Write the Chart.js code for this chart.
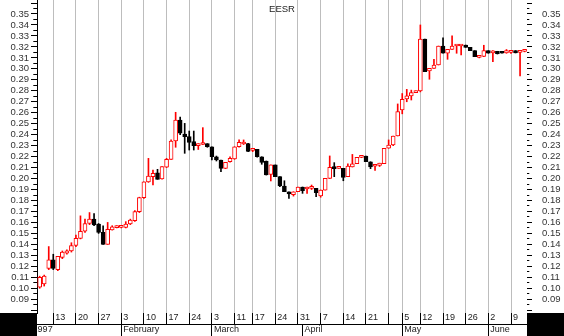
<!DOCTYPE html>
<html>
<head>
<meta charset="utf-8">
<script src="https://cdn.jsdelivr.net/npm/chart.js@4.4.0/dist/chart.umd.min.js"></script>
<style>
  html, body { margin: 0; padding: 0; background: #fff; }
  canvas { display: block; }
</style>
</head>
<body>
<canvas id="myChart" width="564" height="336"></canvas>
<script>
// trading day index (0 = Mon 6 Jan 1997)
const day = [
  2, 3, 4, 5, 6, 7, 8, 9, 10, 11,
  12, 13, 14, 15, 16, 17, 18, 19, 20, 21,
  22, 23, 24, 25, 26, 27, 28, 29, 30, 31,
  32, 33, 34, 35, 36, 37, 38, 39, 40, 41,
  42, 43, 44, 45, 46, 47, 48, 49, 50, 51,
  52, 53, 54, 55, 56, 57, 58, 59, 60, 61,
  62, 63, 64, 65, 66, 67, 68, 69, 70, 71,
  72, 73, 74, 75, 76, 77, 78, 79, 80, 81,
  82, 83, 84, 85, 86, 87, 88, 89, 90, 91,
  92, 93, 94, 95, 96, 97, 98, 99, 100, 101,
  102, 103, 104, 105, 106, 107, 108, 109
];
const open = [
  .101, .104, .118, .126, .117, .128, .132, .134, .139, .1455,
  .152, .159, .163, .1586, .151, .140, .1531, .1552, .1555, .1555,
  .1586, .1616, .1698, .1826, .1969, .2017, .2053, .1996, .2103, .2175,
  .2342, .2534, .2406, .2382, .2336, .2299, .231, .2318, .229, .2199,
  .2169, .2093, .2154, .2178, .229, .2315, .2318, .2257, .2266, .2199,
  .216, .2038, .2124, .2017, .1932, .188, .1853, .188, .1923, .1905,
  .191, .191, .1841, .1895, .2002, .2105, .2093, .2093, .2017, .2105,
  .2135, .2193, .2205, .2153, .2112, .212, .2135, .2276, .2306, .2388,
  .2625, .2725, .2753, .2783, .2799, .3272, .298, .3005, .3035, .3208,
  .3142, .3178, .3208, .3208, .3217, .3196, .3166, .3105, .3114, .3166,
  .3145, .316, .3155, .3145, .315, .3166, .315, .316
];
const high = [
  .111, .112, .138, .131, .129, .134, .135, .1415, .1485, .166,
  .163, .169, .168, .159, .157, .160, .157, .157, .157, .1607,
  .163, .1707, .183, .197, .2184, .2078, .2084, .2108, .2184, .2352,
  .2604, .2561, .2503, .2433, .2433, .2318, .2464, .2318, .229, .2205,
  .2169, .2148, .2199, .229, .2352, .2352, .232, .2275, .2266, .2199,
  .216, .2124, .2124, .2017, .198, .188, .188, .1923, .1923, .1923,
  .1941, .191, .1896, .2002, .2206, .2145, .2105, .2093, .2135, .222,
  .2193, .2211, .2205, .2153, .2122, .214, .2276, .2352, .2388, .268,
  .2775, .2813, .2806, .280, .340, .3272, .3005, .3087, .3208, .3283,
  .3178, .330, .3217, .3217, .3217, .3196, .3166, .3115, .3215, .3166,
  .3166, .316, .3155, .3176, .316, .3166, .316, .317
];
const low = [
  .100, .102, .117, .117, .116, .127, .131, .133, .138, .145,
  .151, .158, .157, .150, .140, .140, .153, .155, .155, .155,
  .158, .161, .169, .182, .1965, .1941, .1993, .1995, .210, .2175,
  .2285, .240, .223, .226, .226, .2265, .231, .2285, .2169, .216,
  .2063, .209, .215, .2175, .2285, .231, .2245, .2245, .2195, .213,
  .2032, .1978, .2017, .1926, .188, .182, .184, .188, .1865, .1865,
  .190, .1835, .183, .1895, .200, .2017, .2093, .198, .2017, .2105,
  .2135, .219, .2153, .209, .2075, .211, .2135, .2276, .230, .2388,
  .259, .270, .2716, .2783, .279, .2974, .2905, .3005, .3035, .3142,
  .3087, .3178, .3142, .3126, .3196, .3166, .3111, .310, .3111, .3142,
  .3066, .3135, .3142, .3142, .314, .3145, .2935, .3155
];
const close = [
  .110, .111, .126, .118, .129, .133, .134, .139, .1455, .152,
  .159, .163, .1577, .151, .140, .1537, .1561, .1561, .1568, .1586,
  .1622, .1698, .1826, .1969, .2023, .2047, .1993, .2108, .2175, .2342,
  .2534, .2413, .2382, .233, .2299, .2318, .232, .229, .2199, .2169,
  .2093, .2148, .2184, .229, .233, .2325, .2248, .2262, .2199, .2148,
  .2032, .2124, .2017, .1932, .188, .1859, .188, .1923, .1889, .191,
  .1915, .1871, .1896, .2002, .2102, .209, .2102, .2011, .2114, .2135,
  .2193, .2205, .2153, .2105, .212, .214, .2276, .2306, .2388, .2611,
  .2722, .2753, .2783, .2799, .3272, .2974, .3005, .3035, .3208, .3142,
  .3178, .3208, .3217, .3217, .3196, .3166, .3111, .3114, .3166, .3142,
  .3148, .3138, .3142, .3166, .3155, .3145, .3158, .3168
];

// week ticks (first trading day of each week) and month ticks
const weekTicks = [0, 5, 10, 15, 20, 25, 30, 35, 40, 45, 49, 54, 59, 64, 69, 74, 79, 82, 86, 91, 96, 101, 106];
const weekLabels = ['6', '13', '20', '27', '3', '10', '17', '24', '3', '11', '17', '24', '31', '7', '14', '21', '', '5', '12', '19', '26', '2', '9'];
const monthTicks = [0, 20, 40, 60, 82, 101];
const monthLabels = ['1997', 'February', 'March', 'April', 'May', 'June'];
const yLabels = ['0.09', '0.10', '0.11', '0.12', '0.13', '0.14', '0.15', '0.16', '0.17', '0.18',
  '0.19', '0.20', '0.21', '0.22', '0.23', '0.24', '0.25', '0.26', '0.27', '0.28',
  '0.29', '0.30', '0.31', '0.32', '0.33', '0.34', '0.35'];

const xMin = 1.41, xMax = 109.53;
const yMin = 0.07744, yMax = 0.36276;

const red = '#ff0000';
const up = close.map((c, i) => c >= open[i]);

// ticks every 0.005, odd ones are minor
const yTicks = [];
for (let k = 16; k <= 72; k++) {
  yTicks.push({ value: k / 200, minor: k % 2 === 1 });
}
const yLabelFor = (v, i, ticks) => {
  if (ticks[i] && ticks[i].minor) return '';
  const s = v.toFixed(2);
  return yLabels.includes(s) ? s : '';
};

const font9 = { family: '"Liberation Sans", Arial, sans-serif', size: 9, lineHeight: '12px' };
const font10 = { family: '"Liberation Sans", Arial, sans-serif', size: 9.5, lineHeight: '12px' };

const noPad = (s) => { s.paddingLeft = 0; s.paddingRight = 0; s.paddingTop = 0; s.paddingBottom = 0; };

const frame = {
  id: 'frame',
  afterDraw(chart) {
    const { ctx, chartArea: a, width, height } = chart;
    ctx.save();
    ctx.fillStyle = '#000';
    ctx.fillRect(0, a.bottom, a.left, height - a.bottom);
    ctx.fillRect(a.right, a.bottom, width - a.right, height - a.bottom);
    ctx.fillStyle = '#222';
    ctx.font = '9.5px "Liberation Sans", Arial, sans-serif';
    ctx.textAlign = 'center';
    ctx.textBaseline = 'middle';
    ctx.fillText('EESR', (a.left + a.right) / 2, 9);
    ctx.restore();
  }
};

let ctx = document.getElementById('myChart');
new Chart(ctx, {
  type: 'bar',
  data: {
    datasets: [{
      label: 'body',
      data: day.map((d, i) => ({ x: d, y: [open[i], close[i]] })),
      backgroundColor: up.map(u => u ? '#ffffff' : '#000000'),
      borderColor: up.map(u => u ? red : '#000000'),
      borderWidth: 1,
      borderSkipped: false,
      barThickness: 4,
      minBarLength: 2,
      grouped: false,
      order: 0
    }, {
      label: 'wick',
      data: day.map((d, i) => ({ x: d, y: [low[i], high[i]] })),
      backgroundColor: up.map(u => u ? red : '#000000'),
      borderWidth: 0,
      barThickness: 1,
      grouped: false,
      order: 1
    }]
  },
  options: {
    responsive: false,
    animation: false,
    devicePixelRatio: 1,
    layout: { padding: 0 },
    plugins: { legend: { display: false }, tooltip: { enabled: false } },
    scales: {
      x: {
        type: 'linear', position: 'bottom', min: xMin, max: xMax, offset: false, weight: 0,
        afterBuildTicks: s => { s.ticks = weekTicks.map(v => ({ value: v })); },
        afterFit: s => { s.height = 11; noPad(s); },
        grid: {
          offset: false, lineWidth: 1, tickLength: 11, tickColor: '#000',
          color: c => (c.tick && c.tick.value < xMin) ? 'rgba(0,0,0,0)' : '#bdbdbd'
        },
        border: { display: false },
        ticks: {
          autoSkip: false, maxRotation: 0, align: 'start', labelOffset: 2, padding: -12,
          color: '#222', font: font9, callback: (v, i) => weekLabels[i]
        }
      },
      x2: {
        type: 'linear', position: 'bottom', min: xMin, max: xMax, offset: false, weight: 1,
        afterBuildTicks: s => { s.ticks = monthTicks.map(v => ({ value: v })); },
        afterFit: s => { s.height = 12; noPad(s); },
        grid: { offset: false, drawOnChartArea: false, tickLength: 12, tickColor: '#000' },
        border: { display: true, color: '#000', width: 1 },
        ticks: {
          autoSkip: false, maxRotation: 0, align: 'start', labelOffset: 2, padding: -12,
          color: '#222', font: font9, callback: (v, i) => monthLabels[i]
        }
      },
      y: {
        position: 'left', min: yMin, max: yMax, beginAtZero: false,
        afterBuildTicks: s => { s.ticks = yTicks.map(t => ({ ...t })); },
        afterFit: s => { s.width = 37; noPad(s); },
        grid: {
          drawOnChartArea: false, tickLength: 6, tickColor: '#000',
          tickBorderDash: c => (c.tick && c.tick.minor) ? [3.7, 2.3] : [],
          tickBorderDashOffset: c => (c.tick && c.tick.minor) ? 3.7 : 0
        },
        border: { display: true, color: '#000', width: 1 },
        ticks: { autoSkip: false, padding: 2, color: '#333', font: font10, callback: yLabelFor }
      },
      y2: {
        position: 'right', min: yMin, max: yMax, beginAtZero: false,
        afterBuildTicks: s => { s.ticks = yTicks.map(t => ({ ...t })); },
        afterFit: s => { s.width = 37; noPad(s); },
        grid: {
          drawOnChartArea: false, tickLength: 5, tickColor: '#000',
          tickBorderDash: c => (c.tick && c.tick.minor) ? [2.3, 10] : []
        },
        border: { display: false },
        ticks: { autoSkip: false, padding: 10, color: '#333', font: font10, callback: yLabelFor }
      }
    }
  },
  plugins: [frame]
});
</script>
</body>
</html>
